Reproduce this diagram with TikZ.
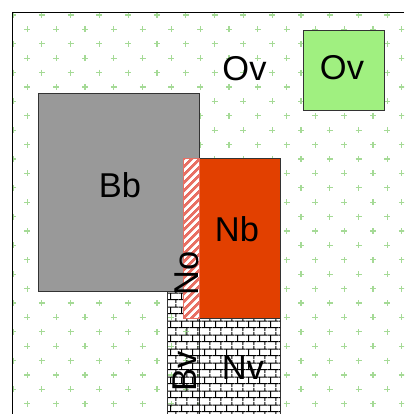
\documentclass[tikz,border=0pt]{standalone}
\usepackage{fontspec}
\setmainfont{Liberation Sans}
\usetikzlibrary{patterns,patterns.meta}

\definecolor{bbgray}{RGB}{153,153,153}
\definecolor{nbred}{RGB}{226,64,0}
\definecolor{ovgreen}{RGB}{160,240,128}
\definecolor{markgreen}{RGB}{165,218,150}
\definecolor{nostripe}{RGB}{232,112,100}

% brick wall, 8pt x 5pt bricks
\pgfdeclarepatternformonly{brickwall}{\pgfpointorigin}{\pgfpoint{8pt}{10pt}}{\pgfpoint{8pt}{10pt}}
{
  \pgfsetlinewidth{0.7pt}
  \pgfpathmoveto{\pgfpoint{0pt}{2.5pt}}\pgfpathlineto{\pgfpoint{8pt}{2.5pt}}
  \pgfpathmoveto{\pgfpoint{0pt}{7.5pt}}\pgfpathlineto{\pgfpoint{8pt}{7.5pt}}
  \pgfpathmoveto{\pgfpoint{2pt}{2.5pt}}\pgfpathlineto{\pgfpoint{2pt}{7.5pt}}
  \pgfpathmoveto{\pgfpoint{6pt}{7.5pt}}\pgfpathlineto{\pgfpoint{6pt}{10pt}}
  \pgfpathmoveto{\pgfpoint{6pt}{0pt}}\pgfpathlineto{\pgfpoint{6pt}{2.5pt}}
  \pgfusepath{stroke}
}

\begin{document}
\begin{tikzpicture}[x=0.025cm,y=-0.025cm,
  box/.style={draw=black!80,line width=0.7pt},
  lbl/.style={font=\fontsize{24.5}{28}\selectfont,inner sep=0pt},
  fieldmark/.style={markgreen,line width=0.75pt}]
  \useasboundingbox (0,0) rectangle (404,414);

  % Field background with marks
  \begin{scope}
    \clip (12,12) rectangle (404,414);
    \foreach \j in {0,...,27} {
      \pgfmathsetmacro{\yy}{15+14.4*\j}
      \pgfmathsetmacro{\xo}{mod(\j,2)==0 ? 13 : 27.4}
      \foreach \i in {0,...,14}
        \draw[fieldmark] (\xo+28.8*\i-3,\yy) -- ++(6,0) (\xo+28.8*\i,\yy-3) -- ++(0,6);
    }
  \end{scope}
  \draw[line width=0.7pt] (404,12) -- (12,12) -- (12,414);

  % Blocks
  \draw[box, fill=bbgray] (38,93) rectangle (199,291);
  \draw[box, fill=white, pattern=brickwall] (167,291) rectangle (199,420);
  \draw[box, fill=white] (199,318) rectangle (280,420);
  \fill[pattern=brickwall] (199,318) rectangle (280,420);
  \draw[box, fill=nbred] (199,158) rectangle (280,318);
  \fill[white] (183,158) rectangle (199,318);
  \fill[pattern={Lines[angle=45,distance=4pt,line width=2pt]}, pattern color=nostripe] (183,158) rectangle (199,318);
  \draw[nostripe, line width=0.7pt] (183,158) rectangle (199,318);
  \draw[box, fill=ovgreen] (303,30) rectangle (384,110);

  % Labels
  \node[lbl] (bb) at (120,185) {Bb};
  \node[lbl] (nb) at (237,229) {Nb};
  \node[lbl, rotate=90] (no) at (187,273) {No};
  \node[lbl, rotate=90] (bv) at (185,371) {Bv};
  \node[lbl] (nv) at (243,368) {Nv};
  \node[lbl] (ovfree) at (244.5,69) {Ov};
  \node[lbl] (ovbox) at (342,68) {Ov};
\end{tikzpicture}
\end{document}
